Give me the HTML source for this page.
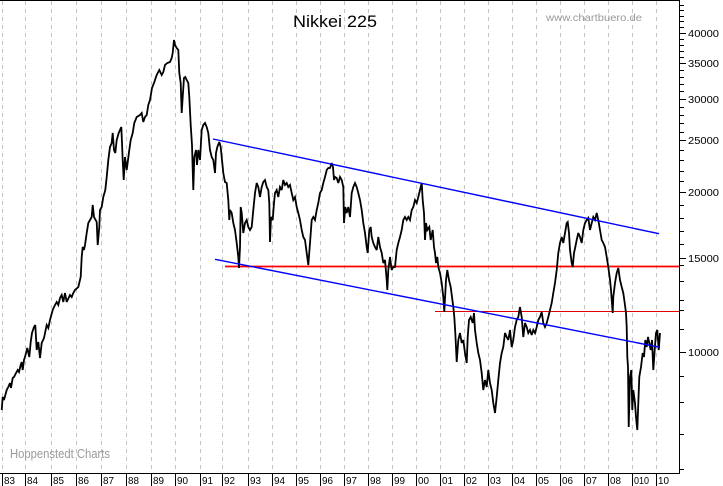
<!DOCTYPE html>
<html><head><meta charset="utf-8"><style>
html,body{margin:0;padding:0;background:#fff;}
svg{display:block;}
text{font-family:"Liberation Sans",Arial,sans-serif;}
</style></head><body>
<svg width="723" height="486" viewBox="0 0 723 486" xmlns="http://www.w3.org/2000/svg">
<rect width="723" height="486" fill="#fff"/>
<g stroke="#c4c4c4" stroke-width="1" stroke-dasharray="4,4">
<line x1="2.5" y1="1" x2="2.5" y2="473"/><line x1="25.5" y1="1" x2="25.5" y2="473"/><line x1="51.5" y1="1" x2="51.5" y2="473"/><line x1="76.5" y1="1" x2="76.5" y2="473"/><line x1="101.5" y1="1" x2="101.5" y2="473"/><line x1="126.5" y1="1" x2="126.5" y2="473"/><line x1="151.5" y1="1" x2="151.5" y2="473"/><line x1="175.5" y1="1" x2="175.5" y2="473"/><line x1="200.5" y1="1" x2="200.5" y2="473"/><line x1="222.5" y1="1" x2="222.5" y2="473"/><line x1="248.5" y1="1" x2="248.5" y2="473"/><line x1="272.5" y1="1" x2="272.5" y2="473"/><line x1="296.5" y1="1" x2="296.5" y2="473"/><line x1="320.5" y1="1" x2="320.5" y2="473"/><line x1="344.5" y1="1" x2="344.5" y2="473"/><line x1="368.5" y1="1" x2="368.5" y2="473"/><line x1="392.5" y1="1" x2="392.5" y2="473"/><line x1="416.5" y1="1" x2="416.5" y2="473"/><line x1="440.5" y1="1" x2="440.5" y2="473"/><line x1="464.5" y1="1" x2="464.5" y2="473"/><line x1="488.5" y1="1" x2="488.5" y2="473"/><line x1="512.5" y1="1" x2="512.5" y2="473"/><line x1="536.5" y1="1" x2="536.5" y2="473"/><line x1="560.5" y1="1" x2="560.5" y2="473"/><line x1="584.5" y1="1" x2="584.5" y2="473"/><line x1="608.5" y1="1" x2="608.5" y2="473"/><line x1="632.5" y1="1" x2="632.5" y2="473"/><line x1="656.5" y1="1" x2="656.5" y2="473"/>
</g>
<!-- frame -->
<line x1="0" y1="0.5" x2="680" y2="0.5" stroke="#000" stroke-width="1"/>
<line x1="679.5" y1="0" x2="679.5" y2="473.5" stroke="#000" stroke-width="1"/>
<line x1="0" y1="473.5" x2="680" y2="473.5" stroke="#000" stroke-width="1"/>
<!-- right ticks -->
<g stroke="#000" stroke-width="1">
<line x1="680" y1="33.5" x2="686" y2="33.5"/><line x1="680" y1="63.5" x2="686" y2="63.5"/><line x1="680" y1="99.5" x2="686" y2="99.5"/><line x1="680" y1="140.5" x2="686" y2="140.5"/><line x1="680" y1="192.5" x2="686" y2="192.5"/><line x1="680" y1="258.5" x2="686" y2="258.5"/><line x1="680" y1="352.5" x2="686" y2="352.5"/>
<line x1="680" y1="5.5" x2="684" y2="5.5"/><line x1="680" y1="10.5" x2="684" y2="10.5"/><line x1="680" y1="16.5" x2="684" y2="16.5"/><line x1="680" y1="21.5" x2="684" y2="21.5"/><line x1="680" y1="27.5" x2="684" y2="27.5"/>
<line x1="680" y1="39.5" x2="684" y2="39.5"/><line x1="680" y1="45.5" x2="684" y2="45.5"/><line x1="680" y1="51.5" x2="684" y2="51.5"/><line x1="680" y1="57.5" x2="684" y2="57.5"/>
<line x1="680" y1="70.5" x2="684" y2="70.5"/><line x1="680" y1="77.5" x2="684" y2="77.5"/><line x1="680" y1="84.5" x2="684" y2="84.5"/><line x1="680" y1="91.5" x2="684" y2="91.5"/>
<line x1="680" y1="107.5" x2="684" y2="107.5"/><line x1="680" y1="115.5" x2="684" y2="115.5"/><line x1="680" y1="123.5" x2="684" y2="123.5"/><line x1="680" y1="132.5" x2="684" y2="132.5"/>
<line x1="680" y1="150.5" x2="684" y2="150.5"/><line x1="680" y1="160.5" x2="684" y2="160.5"/><line x1="680" y1="171.5" x2="684" y2="171.5"/><line x1="680" y1="181.5" x2="684" y2="181.5"/>
<line x1="680" y1="205.5" x2="684" y2="205.5"/><line x1="680" y1="218.5" x2="684" y2="218.5"/><line x1="680" y1="231.5" x2="684" y2="231.5"/><line x1="680" y1="244.5" x2="684" y2="244.5"/>
<line x1="680" y1="265.5" x2="684" y2="265.5"/><line x1="680" y1="281.5" x2="684" y2="281.5"/><line x1="680" y1="300.5" x2="684" y2="300.5"/><line x1="680" y1="310.5" x2="684" y2="310.5"/><line x1="680" y1="329.5" x2="684" y2="329.5"/>
<line x1="680" y1="376.5" x2="684" y2="376.5"/><line x1="680" y1="402.5" x2="684" y2="402.5"/><line x1="680" y1="434.5" x2="684" y2="434.5"/><line x1="680" y1="469.5" x2="684" y2="469.5"/>
</g>
<!-- right labels -->
<g font-size="10" fill="#000">
<text x="688" y="37" textLength="31" lengthAdjust="spacingAndGlyphs">40000</text>
<text x="688" y="67" textLength="31" lengthAdjust="spacingAndGlyphs">35000</text>
<text x="688" y="103" textLength="31" lengthAdjust="spacingAndGlyphs">30000</text>
<text x="688" y="144" textLength="31" lengthAdjust="spacingAndGlyphs">25000</text>
<text x="688" y="196" textLength="31" lengthAdjust="spacingAndGlyphs">20000</text>
<text x="688" y="262" textLength="31" lengthAdjust="spacingAndGlyphs">15000</text>
<text x="688" y="356" textLength="31" lengthAdjust="spacingAndGlyphs">10000</text>
</g>
<!-- bottom year separators -->
<g stroke="#000" stroke-width="1">
<line x1="2.5" y1="474" x2="2.5" y2="486"/><line x1="25.5" y1="474" x2="25.5" y2="486"/><line x1="51.5" y1="474" x2="51.5" y2="486"/><line x1="76.5" y1="474" x2="76.5" y2="486"/><line x1="101.5" y1="474" x2="101.5" y2="486"/><line x1="126.5" y1="474" x2="126.5" y2="486"/><line x1="151.5" y1="474" x2="151.5" y2="486"/><line x1="175.5" y1="474" x2="175.5" y2="486"/><line x1="200.5" y1="474" x2="200.5" y2="486"/><line x1="222.5" y1="474" x2="222.5" y2="486"/><line x1="248.5" y1="474" x2="248.5" y2="486"/><line x1="272.5" y1="474" x2="272.5" y2="486"/><line x1="296.5" y1="474" x2="296.5" y2="486"/><line x1="320.5" y1="474" x2="320.5" y2="486"/><line x1="344.5" y1="474" x2="344.5" y2="486"/><line x1="368.5" y1="474" x2="368.5" y2="486"/><line x1="392.5" y1="474" x2="392.5" y2="486"/><line x1="416.5" y1="474" x2="416.5" y2="486"/><line x1="440.5" y1="474" x2="440.5" y2="486"/><line x1="464.5" y1="474" x2="464.5" y2="486"/><line x1="488.5" y1="474" x2="488.5" y2="486"/><line x1="512.5" y1="474" x2="512.5" y2="486"/><line x1="536.5" y1="474" x2="536.5" y2="486"/><line x1="560.5" y1="474" x2="560.5" y2="486"/><line x1="584.5" y1="474" x2="584.5" y2="486"/><line x1="608.5" y1="474" x2="608.5" y2="486"/><line x1="632.5" y1="474" x2="632.5" y2="486"/><line x1="656.5" y1="474" x2="656.5" y2="486"/>
</g>
<g font-size="10.5" fill="#000">
<text x="4" y="484" textLength="11" lengthAdjust="spacingAndGlyphs">83</text>
<text x="27" y="484" textLength="11" lengthAdjust="spacingAndGlyphs">84</text>
<text x="53" y="484" textLength="11" lengthAdjust="spacingAndGlyphs">85</text>
<text x="78" y="484" textLength="11" lengthAdjust="spacingAndGlyphs">86</text>
<text x="103" y="484" textLength="11" lengthAdjust="spacingAndGlyphs">87</text>
<text x="128" y="484" textLength="11" lengthAdjust="spacingAndGlyphs">88</text>
<text x="153" y="484" textLength="11" lengthAdjust="spacingAndGlyphs">89</text>
<text x="177" y="484" textLength="11" lengthAdjust="spacingAndGlyphs">90</text>
<text x="202" y="484" textLength="11" lengthAdjust="spacingAndGlyphs">91</text>
<text x="224" y="484" textLength="11" lengthAdjust="spacingAndGlyphs">92</text>
<text x="250" y="484" textLength="11" lengthAdjust="spacingAndGlyphs">93</text>
<text x="274" y="484" textLength="11" lengthAdjust="spacingAndGlyphs">94</text>
<text x="298" y="484" textLength="11" lengthAdjust="spacingAndGlyphs">95</text>
<text x="322" y="484" textLength="11" lengthAdjust="spacingAndGlyphs">96</text>
<text x="346" y="484" textLength="11" lengthAdjust="spacingAndGlyphs">97</text>
<text x="370" y="484" textLength="11" lengthAdjust="spacingAndGlyphs">98</text>
<text x="394" y="484" textLength="11" lengthAdjust="spacingAndGlyphs">99</text>
<text x="418" y="484" textLength="11" lengthAdjust="spacingAndGlyphs">00</text>
<text x="442" y="484" textLength="11" lengthAdjust="spacingAndGlyphs">01</text>
<text x="466" y="484" textLength="11" lengthAdjust="spacingAndGlyphs">02</text>
<text x="490" y="484" textLength="11" lengthAdjust="spacingAndGlyphs">03</text>
<text x="514" y="484" textLength="11" lengthAdjust="spacingAndGlyphs">04</text>
<text x="538" y="484" textLength="11" lengthAdjust="spacingAndGlyphs">05</text>
<text x="562" y="484" textLength="11" lengthAdjust="spacingAndGlyphs">06</text>
<text x="586" y="484" textLength="11" lengthAdjust="spacingAndGlyphs">07</text>
<text x="610" y="484" textLength="11" lengthAdjust="spacingAndGlyphs">08</text>
<text x="634" y="484" textLength="15" lengthAdjust="spacingAndGlyphs">010</text>
<text x="658" y="484" textLength="11" lengthAdjust="spacingAndGlyphs">10</text>
</g>
<!-- titles -->
<text x="293" y="27" font-size="17" fill="#000" textLength="84" lengthAdjust="spacingAndGlyphs">Nikkei 225</text>
<text x="546" y="21" font-size="10" fill="#9a9a9a" textLength="96" lengthAdjust="spacingAndGlyphs">www.chartbuero.de</text>
<text x="10" y="458" font-size="12.5" fill="#9a9a9a" textLength="100" lengthAdjust="spacingAndGlyphs">Hoppenstedt Charts</text>
<!-- horizontal red lines -->
<line x1="225" y1="266.5" x2="679" y2="266.5" stroke="#ff0000" stroke-width="1.8"/>
<line x1="435" y1="311.5" x2="679" y2="311.5" stroke="#e00000" stroke-width="1"/>
<!-- series -->
<polyline fill="none" stroke="#000" stroke-width="1.8" stroke-linejoin="miter" stroke-miterlimit="3" points="1.7,410 2.7,397 4,400 6.7,390 8.3,387 10,383 11,388 12.7,378 14,377 16,373 17.7,370 19,372 20.7,365 21.7,362 22.7,370 24,360 25,357 27.3,348 29.3,357 30.7,342 32,333 34,327 35.3,325 36.7,350 38.3,342 40,358 41.7,343 44,338 46.7,325 48.3,328 50,320 52.7,310 55,305 56.7,302 58.3,305 60,298 61.7,295 63.3,302 65,293 66.7,302 70,295 71.7,297 73.3,293 75,290 78.3,287 80.7,277 81.7,257 82.7,247 84,250 85,245 86.7,233 88.3,223 90,220 91.7,217 92.7,205 94,217 96.7,222 97.7,245 99.3,227 100,210 101.7,207 103.3,197 105.3,190 106.7,177 108.3,160 110,147 111.7,143 112.7,133 114,150 115.3,153 116.7,140 118.7,133 120,130 121.3,127 122,143 122.7,160 123.7,180 125,157 126.7,170 128,160 129.3,150 130.7,140 132.7,133 134.3,123 136.7,117 140,115 141.7,113 143.3,122 145,117 146.7,115 148.3,105 150,100 152,88 154,83 156.7,75 159.3,70 161.7,75 163.3,72 165,65 167.3,63 170,62 171.7,58 172.7,53 174,40 175,45 176.7,48 178.3,50 179.3,73 180.7,83 181.7,113 182.7,97 184,78 185.3,77 186.7,80 188.3,83 189.3,97 190.7,125 192,145 193.3,190 194.3,157 196,150 197,165 198.3,150 200,160 201.7,130 203.3,125 205,123 206.7,127 208.3,133 210,150 211.7,157 213.3,160 215,173 216,153 217.3,147 219.3,142 220.7,147 222,160 223.3,173 225,182 226.7,183 228.3,200 229.3,220 230,210 231.7,213 233.3,223 235,230 236.7,243 238.3,257 239,268 240,247 240.7,207 241.7,213 243.3,233 245,223 246.7,220 248.3,227 250,230 251.7,227 253.3,210 255,193 256.7,183 258.3,187 260,197 261.7,187 263.3,182 265,180 266.7,187 268.3,190 269.3,203 270,242 271,217 272.7,220 274,203 275,193 276.7,190 278.3,197 280,187 281.7,190 283.3,180 285,185 286.7,183 288.3,187 290,185 291.7,193 293.3,200 295,197 296.7,207 298.3,213 300,220 301.7,230 303.3,237 305,240 306.7,253 308.3,265 310,243 311.7,220 313.3,217 315,220 316.7,210 318.3,203 320,193 321.7,190 323.3,183 325,177 326.7,170 328.3,168 330,168 331.7,163 333,167 334,180 335,177 336.7,178 338.3,183 340,177 341.7,180 343.3,187 344,223 345.3,207 346.7,213 348.3,207 350,217 351.7,193 353.3,187 355,183 356.7,187 358.3,193 360,200 361.7,210 363.3,223 365,233 366.7,247 367.7,253 369.3,230 370.7,227 371.7,237 373.3,243 375,247 376.7,250 378.3,237 380,247 381.7,253 383.3,263 385,260 386.7,280 387.3,290 388.3,270 390,257 391.7,270 393.3,267 395,267 396.7,250 398.3,243 400,237 401.7,230 403.3,220 405,217 406.7,220 408.3,217 410,220 411.7,210 413.3,207 415,200 416.7,203 418.3,197 420,190 421.7,183 422.7,200 424,213 425,240 426,223 427.3,230 429.3,227 430.7,240 432.7,230 434,247 435,253 436,263 437.3,257 438.3,267 440,273 441.7,283 443.3,297 444.3,312 446,280 447.3,270 449,280 450.7,287 452,297 453.3,307 454.3,317 455.3,333 456.7,362 458.3,340 460,333 461.7,343 463.3,340 465,353 466.7,363 467.7,337 469,320 470.7,317 472.7,323 474,313 475,330 476.7,343 478.3,353 480,360 481.7,373 483.3,390 485,380 486.7,387 488.3,370 490,383 491.7,390 493.3,403 495,413 496.7,397 498.3,380 500,363 501.7,353 503.3,347 505,333 506.7,337 508.3,340 510,330 511.7,347 513.3,340 515,327 516.7,320 518.3,317 520,307 521.7,317 523.3,337 525,323 526.7,327 528.3,333 530,330 531.7,335 533.3,330 535,333 536.7,327 538.3,320 540,317 541.7,312 543.3,323 545,327 546.7,323 548.3,317 550,310 551.7,303 553.3,293 555,283 556.7,270 558.3,253 560,243 561.7,237 563.3,243 565,233 566.7,223 567.7,222 569,233 570,250 571.7,263 572.7,267 574,253 575.3,247 576.7,240 578.3,233 580,237 581.7,243 583.3,230 585,223 586.7,220 588.3,218 590,230 591.7,223 593.3,217 595,220 596.7,213 598.3,220 600,230 601.7,240 603.3,243 605,247 606.7,257 608.3,267 610,280 611,290 612.7,313 613.3,297 615,283 616.7,273 618.3,268 620,280 621.7,287 623.3,293 624.7,303 626,313 626.7,327 627.3,357 628,367 628.7,427 630,377 631.3,370 632.3,410 633.3,390 635,403 636,417 637.3,430 638.3,403 639.3,377 641,367 642.7,353 644,357 645.3,340 646.7,347 648,337 649.3,343 650.7,350 652,340 653.3,370 654.7,350 656,333 657.3,330 658.7,350 660,333"/>
<!-- blue trend lines -->
<line x1="213" y1="139" x2="659" y2="233.7" stroke="#0000ff" stroke-width="1.4"/>
<line x1="215" y1="259.3" x2="660" y2="347.3" stroke="#0000ff" stroke-width="1.4"/>
</svg>
</body></html>
